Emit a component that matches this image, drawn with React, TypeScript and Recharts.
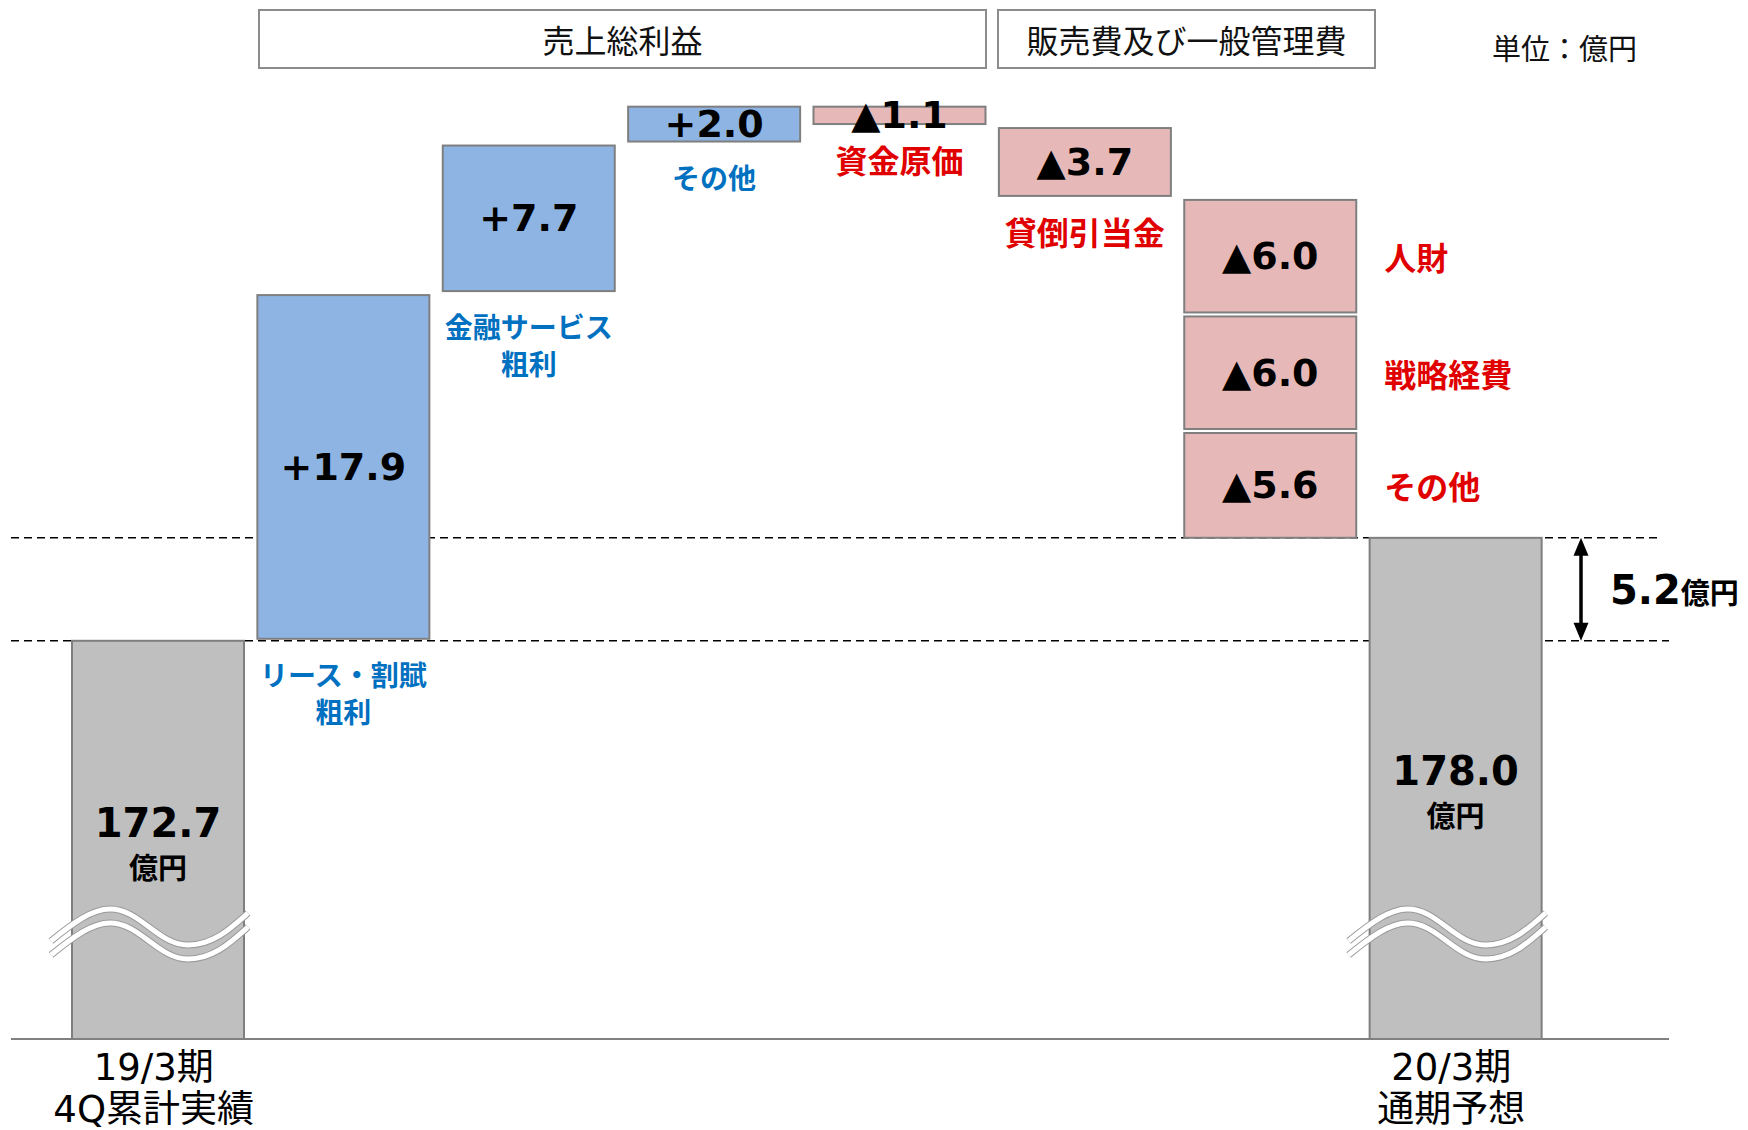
import React from 'react';
import { BarChart, Bar, XAxis, YAxis, ReferenceArea } from 'recharts';

// ---------- data ----------
const categories = [
  '19/3期 4Q累計実績',
  'リース・割賦粗利',
  '金融サービス粗利',
  'その他',
  '資金原価',
  '貸倒引当金',
  '販売費及び一般管理費',
  '20/3期 通期予想',
];
const tickLabels: string[][] = [
  ['19/3期', '4Q累計実績'],
  [],
  [],
  [],
  [],
  [],
  [],
  ['20/3期', '通期予想'],
];
const startTotal = 172.7;
const endTotal = 178.0;
const stepValues = [17.9, 7.7, 2.0, -1.1, -3.7];
const stepNames: string[][] = [
  ['リース・割賦', '粗利'],
  ['金融サービス', '粗利'],
  ['その他'],
  ['資金原価'],
  ['貸倒引当金'],
];
const sgaValues = [-6.0, -6.0, -5.6];
const sgaNames = ['人財', '戦略経費', 'その他'];
const headerLabels = ['売上総利益', '販売費及び一般管理費'];
const unitLabel = '単位：億円';
const gapLabel = '5.2';
const yenUnit = '億円';

// ---------- styles ----------
const FONT_NUM = '"DejaVu Sans", "Noto Sans CJK JP", sans-serif';
const FONT_JP = '"Noto Sans CJK JP", "Noto Sans", sans-serif';
const BLUE = '#8eb4e3';
const PINK = '#e6b9b8';
const GRAY = '#bfbfbf';
const EDGE = '#7f7f7f';
const TXT_BLUE = '#0070c0';
const TXT_RED = '#e00000';

type Info = {
  kind: 'total' | 'up' | 'down';
  text: string;
  names: string[];
  side: 'below' | 'right';
};

const fmtStep = (v: number) => (v >= 0 ? '+' : '▲') + Math.abs(v).toFixed(1);

// build waterfall table
const rows: any[] = [];
const infos: Record<string, Info[]> = { main: [], sga2: [], sga3: [] };
{
  let run = startTotal;
  rows.push({ name: categories[0], main: startTotal, sga2: null, sga3: null });
  infos.main[0] = { kind: 'total', text: startTotal.toFixed(1), names: [], side: 'below' };
  stepValues.forEach((v, i) => {
    const next = run + v;
    rows.push({ name: categories[i + 1], main: [Math.min(run, next), Math.max(run, next)], sga2: null, sga3: null });
    infos.main[i + 1] = { kind: v >= 0 ? 'up' : 'down', text: fmtStep(v), names: stepNames[i], side: 'below' };
    run = next;
  });
  const sgaRow: any = { name: categories[6], main: null, sga2: null, sga3: null };
  const keys = ['main', 'sga2', 'sga3'];
  sgaValues.forEach((v, k) => {
    const next = run + v;
    sgaRow[keys[k]] = [Math.min(run, next), Math.max(run, next)];
    infos[keys[k]][6] = { kind: 'down', text: fmtStep(v), names: [sgaNames[k]], side: 'right' };
    run = next;
  });
  rows.push(sgaRow);
  rows.push({ name: categories[7], main: endTotal, sga2: null, sga3: null });
  infos.main[7] = { kind: 'total', text: endTotal.toFixed(1), names: [], side: 'below' };
}

const makeShape = (series: string) => (props: any) => {
  const { x, y, width, height } = props;
  const name = props?.payload?.name ?? props?.name;
  const idx = categories.indexOf(name);
  const info = infos[series][idx >= 0 ? idx : props.index];
  if (!info || ![x, y, width, height].every((n) => Number.isFinite(n)) || height <= 0) return <g />;
  const cx = x + width / 2;
  const mid = y + height / 2;
  if (info.kind === 'total') {
    const bottom = y + height;
    const wy = bottom - 112;
    const wave = (dy: number) =>
      `M${cx - 107},${wy + 14 + dy} C${cx - 85},${wy - 4 + dy} ${cx - 66},${wy - 18 + dy} ${cx - 48},${wy - 18 + dy} ` +
      `C${cx - 18},${wy - 18 + dy} ${cx},${wy + 18 + dy} ${cx + 30},${wy + 18 + dy} ` +
      `C${cx + 55},${wy + 18 + dy} ${cx + 72},${wy + 2 + dy} ${cx + 90},${wy - 14 + dy}`;
    return (
      <g>
        <rect x={x} y={y} width={width} height={height} fill={GRAY} stroke={EDGE} strokeWidth={2} />
        {[0, 14].map((dy) => (
          <g key={dy}>
            <path d={wave(dy)} stroke="#9a9a9a" strokeWidth={7} fill="none" />
            <path d={wave(dy)} stroke="#ffffff" strokeWidth={5} fill="none" />
          </g>
        ))}
        <text x={cx} y={mid - 17} textAnchor="middle" dominantBaseline="central" fontFamily={FONT_NUM} fontWeight={700} fontSize={40} fill="#000">
          {info.text}
        </text>
        <text x={cx} y={mid + 26} textAnchor="middle" dominantBaseline="central" fontFamily={FONT_JP} fontWeight={700} fontSize={29} fill="#000">
          {yenUnit}
        </text>
      </g>
    );
  }
  const up = info.kind === 'up';
  const color = up ? TXT_BLUE : TXT_RED;
  const fs = up ? 28 : 32;
  return (
    <g>
      <rect x={x} y={y + 2} width={width} height={Math.max(height - 4, 1)} fill={up ? BLUE : PINK} stroke={EDGE} strokeWidth={2} />
      <text x={cx} y={mid} textAnchor="middle" dominantBaseline="central" fontFamily={FONT_NUM} fontWeight={700} fontSize={38} fill="#000">
        {info.text}
      </text>
      {info.side === 'below'
        ? info.names.map((n, k) => (
            <text key={k} x={cx} y={y + height + 33 + k * 37} textAnchor="middle" dominantBaseline="central" fontFamily={FONT_JP} fontWeight={700} fontSize={fs} fill={color}>
              {n}
            </text>
          ))
        : info.names.map((n, k) => (
            <text key={k} x={x + width + 28} y={mid} textAnchor="start" dominantBaseline="central" fontFamily={FONT_JP} fontWeight={700} fontSize={fs} fill={color}>
              {n}
            </text>
          ))}
    </g>
  );
};

const PAD = { left: 54, right: 121 };

const GapMarker = (p: any) => {
  const { x, y, width, height } = p;
  if (![x, y, width, height].every((n) => Number.isFinite(n))) return <g />;
  const top = y;
  const bot = y + height;
  const left = x - PAD.left;
  const right = x + width + PAD.right;
  const ax = right - 88;
  return (
    <g>
      <line x1={left} x2={right} y1={bot} y2={bot} stroke="#000" strokeWidth={1.5} strokeDasharray="8 5" />
      <line x1={left} x2={right - 12} y1={top} y2={top} stroke="#000" strokeWidth={1.5} strokeDasharray="8 5" />
      <line x1={ax} x2={ax} y1={top + 14} y2={bot - 14} stroke="#000" strokeWidth={3.5} />
      <polygon points={`${ax},${top} ${ax - 7.5},${top + 18} ${ax + 7.5},${top + 18}`} fill="#000" />
      <polygon points={`${ax},${bot} ${ax - 7.5},${bot - 18} ${ax + 7.5},${bot - 18}`} fill="#000" />
      <text x={ax + 29} y={(top + bot) / 2 + 15} fontWeight={700} fill="#000">
        <tspan fontFamily={FONT_NUM} fontSize={40}>{gapLabel}</tspan>
        <tspan fontFamily={FONT_JP} fontSize={29}>{yenUnit}</tspan>
      </text>
    </g>
  );
};

const Tick = (props: any) => {
  const { x, y, payload } = props;
  const idx = categories.indexOf(payload?.value);
  const lines = tickLabels[idx] || [];
  return (
    <g>
      {lines.map((l, k) => (
        <text key={k} x={x - 4} y={y + 28 + k * 42} textAnchor="middle" dominantBaseline="central" fontFamily={FONT_NUM} fontSize={37} fill="#000">
          {l}
        </text>
      ))}
    </g>
  );
};

const boxStyle: React.CSSProperties = {
  position: 'absolute', top: 9, height: 60, boxSizing: 'border-box',
  border: '2px solid #8c8c8c', display: 'flex', alignItems: 'center', justifyContent: 'center',
  fontFamily: FONT_JP, fontSize: 32, color: '#111', background: '#fff',
};

export default function App() {
  return (
    <div style={{ position: 'absolute', left: 0, top: 0, width: 1748, height: 1130, background: '#fff' }}>
      <BarChart width={1748} height={1130} data={rows} margin={{ top: 60, right: 79, bottom: 0, left: 11 }}>
        <XAxis
          dataKey="name"
          padding={PAD}
          height={91}
          axisLine={{ stroke: '#808080', strokeWidth: 2 }}
          tickLine={false}
          tickSize={0}
          tickMargin={0}
          interval={0}
          tick={Tick}
        />
        <XAxis xAxisId="s2" dataKey="name" padding={PAD} hide />
        <XAxis xAxisId="s3" dataKey="name" padding={PAD} hide />
        <YAxis type="number" domain={[152.2, 202.6]} allowDataOverflow hide />
        <ReferenceArea y1={startTotal} y2={endTotal} ifOverflow="visible" shape={GapMarker} />
        <Bar dataKey="main" barSize={172} isAnimationActive={false} shape={makeShape('main')} />
        <Bar dataKey="sga2" xAxisId="s2" barSize={172} isAnimationActive={false} shape={makeShape('sga2')} />
        <Bar dataKey="sga3" xAxisId="s3" barSize={172} isAnimationActive={false} shape={makeShape('sga3')} />
      </BarChart>
      <div style={{ ...boxStyle, left: 258, width: 729 }}>{headerLabels[0]}</div>
      <div style={{ ...boxStyle, left: 997, width: 379 }}>{headerLabels[1]}</div>
      <div
        style={{
          position: 'absolute', left: 1492, top: 29, height: 36, lineHeight: '36px',
          fontFamily: FONT_JP, fontSize: 29, color: '#111', whiteSpace: 'nowrap',
        }}
      >
        {unitLabel}
      </div>
    </div>
  );
}
